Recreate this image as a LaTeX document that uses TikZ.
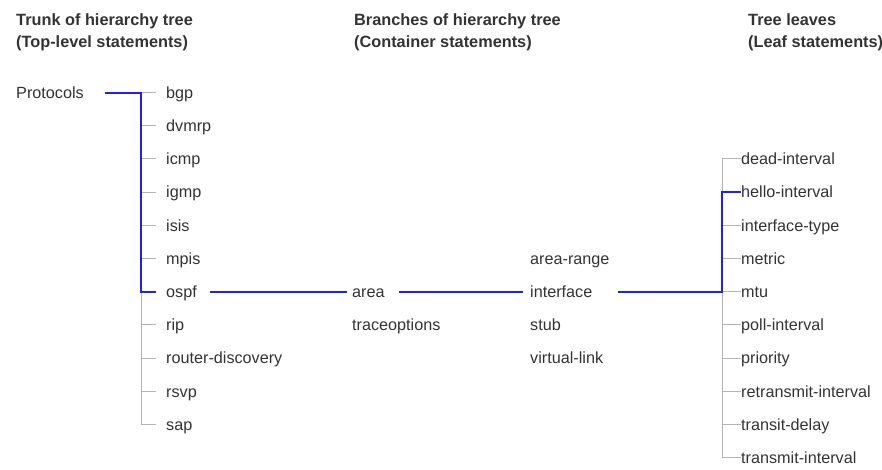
\documentclass[tikz,border=0pt]{standalone}
\usepackage{fontspec}
\setmainfont{Liberation Sans}
\definecolor{txt}{HTML}{333333}
\definecolor{gline}{HTML}{B4B4B4}
\definecolor{bline}{HTML}{2020F0}
\begin{document}
\begin{tikzpicture}[x=1pt,y=-1pt,
  lbl/.style={anchor=west,inner sep=0pt,text height=11.5pt,text depth=0pt,text=txt,font=\fontsize{16.2}{18}\selectfont},
  hdr/.style={anchor=north west,inner sep=0pt,align=left,text=txt,font=\fontsize{16.3}{22}\selectfont\bfseries},
  gl/.style={draw=gline,line width=1pt},
  bl/.style={draw=bline,line width=2pt}]
\useasboundingbox (0,0) rectangle (882,469);
\def\ry#1{92.5+33.2*#1}
% headers
\node[hdr] (h1) at (16,13) {Trunk of hierarchy tree\\(Top-level statements)};
\node[hdr] (h2) at (354,13) {Branches of hierarchy tree\\(Container statements)};
\node[hdr] (h3) at (748,13) {Tree leaves\\(Leaf statements)};
% trunk
\node[lbl] (protocols) at (16,{\ry{0}}) {Protocols};
\foreach \t [count=\i from 0] in {bgp,dvmrp,icmp,igmp,isis,mpis,ospf,rip,router-discovery,rsvp,sap}{
  \node[lbl] (t\i) at (166,{\ry{\i}}) {\t};
  \coordinate (tk\i) at (141,{\ry{\i}});
  \draw[gl] (tk\i) -- ([xshift=-10pt]t\i.west);
}
\draw[gl] (tk0) -- (tk10);
% branches
\node[lbl] (area) at (352,{\ry{6}}) {area};
\node[lbl] (trace) at (352,{\ry{7}}) {traceoptions};
\node[lbl] (arange) at (530,{\ry{5}}) {area-range};
\node[lbl] (iface) at (530,{\ry{6}}) {interface};
\node[lbl] (stub) at (530,{\ry{7}}) {stub};
\node[lbl] (vlink) at (530,{\ry{8}}) {virtual-link};
% leaves
\foreach \t [count=\i from 2] in {dead-interval,hello-interval,interface-type,metric,mtu,poll-interval,priority,retransmit-interval,transit-delay,transmit-interval}{
  \node[lbl] (l\i) at (741,{\ry{\i}}) {\t};
  \coordinate (lk\i) at (722,{\ry{\i}});
  \draw[gl] (lk\i) -- (l\i.west);
}
\draw[gl] (lk2) -- (lk11);
% blue path
\draw[bl] ([xshift=21pt]protocols.east) -- (tk0) -- (tk6) -- ([xshift=-10pt]t6.west);
\draw[bl] ([xshift=13pt]t6.east) -- ([xshift=-5pt]area.west);
\draw[bl] ([xshift=14pt]area.east) -- ([xshift=-7pt]iface.west);
\draw[bl] ([xshift=25pt]iface.east) -- (lk6) -- (lk3) -- (l3.west);
\end{tikzpicture}
\end{document}
